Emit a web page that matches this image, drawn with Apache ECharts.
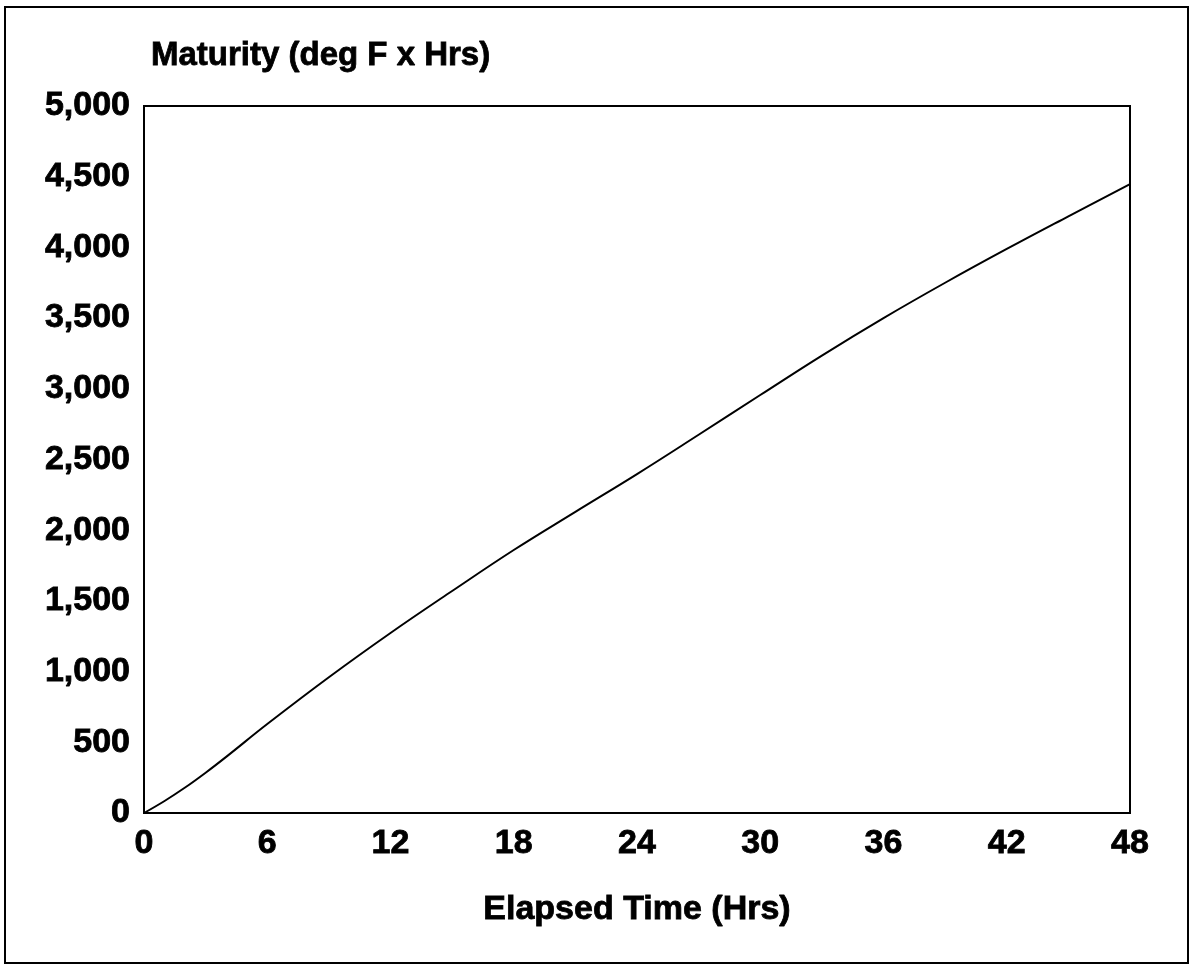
<!DOCTYPE html>
<html>
<head>
<meta charset="utf-8">
<script src="https://cdn.jsdelivr.net/npm/echarts@6/dist/echarts.min.js"></script>
<style>
html,body{margin:0;padding:0;background:#fff;}
#c{width:1193px;height:965px;}
</style>
</head>
<body>
<div id="c"></div>
<script>
const hours = [0, 1, 2, 3, 4, 6, 9, 12, 15, 18, 21, 24, 27, 30, 33, 36, 39, 42, 45, 48];
const maturity = [0, 85, 180, 285, 397, 629, 960, 1273, 1570, 1860, 2130, 2397, 2675, 2956, 3235, 3500, 3750, 3989, 4220, 4448];
const xTicks = [0, 6, 12, 18, 24, 30, 36, 42, 48];
const yTicks = [0, 500, 1000, 1500, 2000, 2500, 3000, 3500, 4000, 4500, 5000];
const yTitle = 'Maturity (deg F x Hrs)';
const xTitle = 'Elapsed Time (Hrs)';

const chart = echarts.init(document.getElementById('c'), null, {renderer: 'canvas'});
const font = 'Liberation Sans, Arial, Helvetica, sans-serif';
const data = hours.map((h, i) => [h, maturity[i]]);
const heavy = {textBorderColor: '#000', textBorderWidth: 0.8};

chart.setOption({
  backgroundColor: '#fff',
  animation: false,
  title: {
    text: yTitle,
    left: 146,
    top: 34,
    textStyle: Object.assign({fontFamily: font, fontWeight: 'bold', fontSize: 33, color: '#000'}, heavy)
  },
  grid: {
    left: 144, right: 1193 - 1130, top: 106, bottom: 965 - 813,
    show: true, borderColor: '#000', borderWidth: 2, containLabel: false
  },
  xAxis: {
    type: 'value', min: 0, max: 48, interval: 6,
    axisLine: {show: true, lineStyle: {color: '#000', width: 2}},
    axisTick: {show: false},
    splitLine: {show: false},
    axisLabel: Object.assign({
      color: '#000', fontFamily: font, fontWeight: 'bold', fontSize: 34, margin: 14,
      customValues: xTicks
    }, heavy),
    name: xTitle, nameLocation: 'middle', nameGap: 80,
    nameTextStyle: Object.assign({color: '#000', fontFamily: font, fontWeight: 'bold', fontSize: 34}, heavy)
  },
  yAxis: {
    type: 'value', min: 0, max: 5000, interval: 500,
    axisLine: {show: true, lineStyle: {color: '#000', width: 2}},
    axisTick: {show: false},
    splitLine: {show: false},
    axisLabel: Object.assign({
      color: '#000', fontFamily: font, fontWeight: 'bold', fontSize: 34, margin: 14,
      customValues: yTicks,
      formatter: v => v.toLocaleString('en-US')
    }, heavy)
  },
  series: [{
    type: 'line', data: data, smooth: 0.4, showSymbol: false,
    lineStyle: {color: '#000', width: 2}
  }],
  graphic: [{
    type: 'rect', shape: {x: 5, y: 7, width: 1183, height: 956},
    style: {fill: 'none', stroke: '#000', lineWidth: 2}, silent: true, z: 100
  }]
});
</script>
</body>
</html>
